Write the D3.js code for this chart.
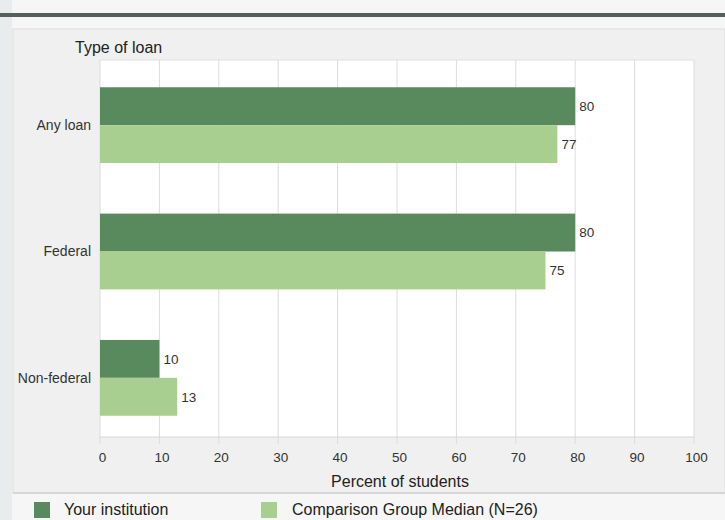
<!DOCTYPE html>
<html><head><meta charset="utf-8">
<script src="https://cdn.jsdelivr.net/npm/d3@7"></script>
<style>body{margin:0;background:#f4f5f4;}svg{display:block;font-family:"Liberation Sans",Arial,sans-serif;}</style>
</head><body><svg id="c" width="725" height="520"></svg>
<script>
const categories = ["Any loan", "Federal", "Non-federal"];
const seriesNames = ["Your institution", "Comparison Group Median (N=26)"];
const yourInstitution = [80, 80, 10];
const comparisonMedian = [77, 75, 13];
const xTicks = [0, 10, 20, 30, 40, 50, 60, 70, 80, 90, 100];
const colors = ["#588a5d", "#a9cf90"];

const svg = d3.select("#c");
svg.append("rect").attr("x",0).attr("y",0).attr("width",725).attr("height",520).attr("fill","#f5f6f5");
svg.append("rect").attr("x",0).attr("y",0).attr("width",12).attr("height",520).attr("fill","#e8ecec");
svg.append("rect").attr("x",0).attr("y",13).attr("width",725).attr("height",4).attr("fill","#55605a");
svg.append("rect").attr("x",13).attr("y",29).attr("width",712).attr("height",464).attr("fill","#eff0ef").attr("stroke","#dcdddc");
svg.append("line").attr("x1",13).attr("x2",725).attr("y1",493).attr("y2",493).attr("stroke","#d0d1d0").attr("stroke-width",1.5);

const x = d3.scaleLinear().domain([0,100]).range([100,694]);
const y = d3.scaleBand().domain(categories).range([62,441]).paddingInner(0.4).paddingOuter(0.2);
const ySub = d3.scaleBand().domain([0,1]).range([0,y.bandwidth()]);

svg.append("rect").attr("x",x(0)).attr("y",60).attr("width",x(100)-x(0)).attr("height",437-60).attr("fill","#ffffff");
svg.append("g").selectAll("line").data(xTicks).join("line")
  .attr("x1",d=>x(d)).attr("x2",d=>x(d)).attr("y1",60).attr("y2",444)
  .attr("stroke","#dcdcdc").attr("stroke-width",1);
svg.append("line").attr("x1",x(0)).attr("x2",x(100)).attr("y1",60).attr("y2",60).attr("stroke","#e0e0e0");
svg.append("line").attr("x1",x(0)).attr("x2",x(100)).attr("y1",437).attr("y2",437).attr("stroke","#d6d6d6");

const xAxis = d3.axisBottom(x).tickValues(xTicks).tickSize(0).tickPadding(0);
const ax = svg.append("g").attr("transform","translate(2,452)").call(xAxis);
ax.select(".domain").remove();
ax.selectAll("text").attr("font-size",13.5).attr("fill","#333").attr("dy","0.71em").attr("font-family","Liberation Sans, Arial, sans-serif");

svg.append("text").attr("x",400).attr("y",487).attr("text-anchor","middle").attr("font-size",16).attr("fill","#222").text("Percent of students");
svg.append("text").attr("x",75).attr("y",53).attr("font-size",16).attr("fill","#222").text("Type of loan");

svg.append("g").selectAll("text").data(categories).join("text")
  .attr("x",91).attr("y",d=>y(d)+y.bandwidth()/2).attr("dy","0.35em")
  .attr("text-anchor","end").attr("font-size",14).attr("fill","#333").text(d=>d);

const series = [yourInstitution, comparisonMedian];
series.forEach((vals,si)=>{
  const g = svg.append("g");
  g.selectAll("rect").data(vals).join("rect")
    .attr("x",x(0)).attr("y",(d,i)=>y(categories[i])+ySub(si))
    .attr("width",d=>x(d)-x(0)).attr("height",ySub.bandwidth()).attr("fill",colors[si]);
  g.selectAll("text").data(vals).join("text")
    .attr("x",d=>x(d)+4).attr("y",(d,i)=>y(categories[i])+ySub(si)+ySub.bandwidth()/2).attr("dy","0.35em")
    .attr("font-size",13.5).attr("fill","#333").text(d=>d);
});

const lg = svg.append("g");
const lx = [34, 261], tx = [64, 292];
seriesNames.forEach((n,i)=>{
  lg.append("rect").attr("x",lx[i]).attr("y",502).attr("width",16).attr("height",16).attr("fill",colors[i]);
  lg.append("text").attr("x",tx[i]).attr("y",515).attr("font-size",16).attr("fill","#222").text(n);
});
</script></body></html>
